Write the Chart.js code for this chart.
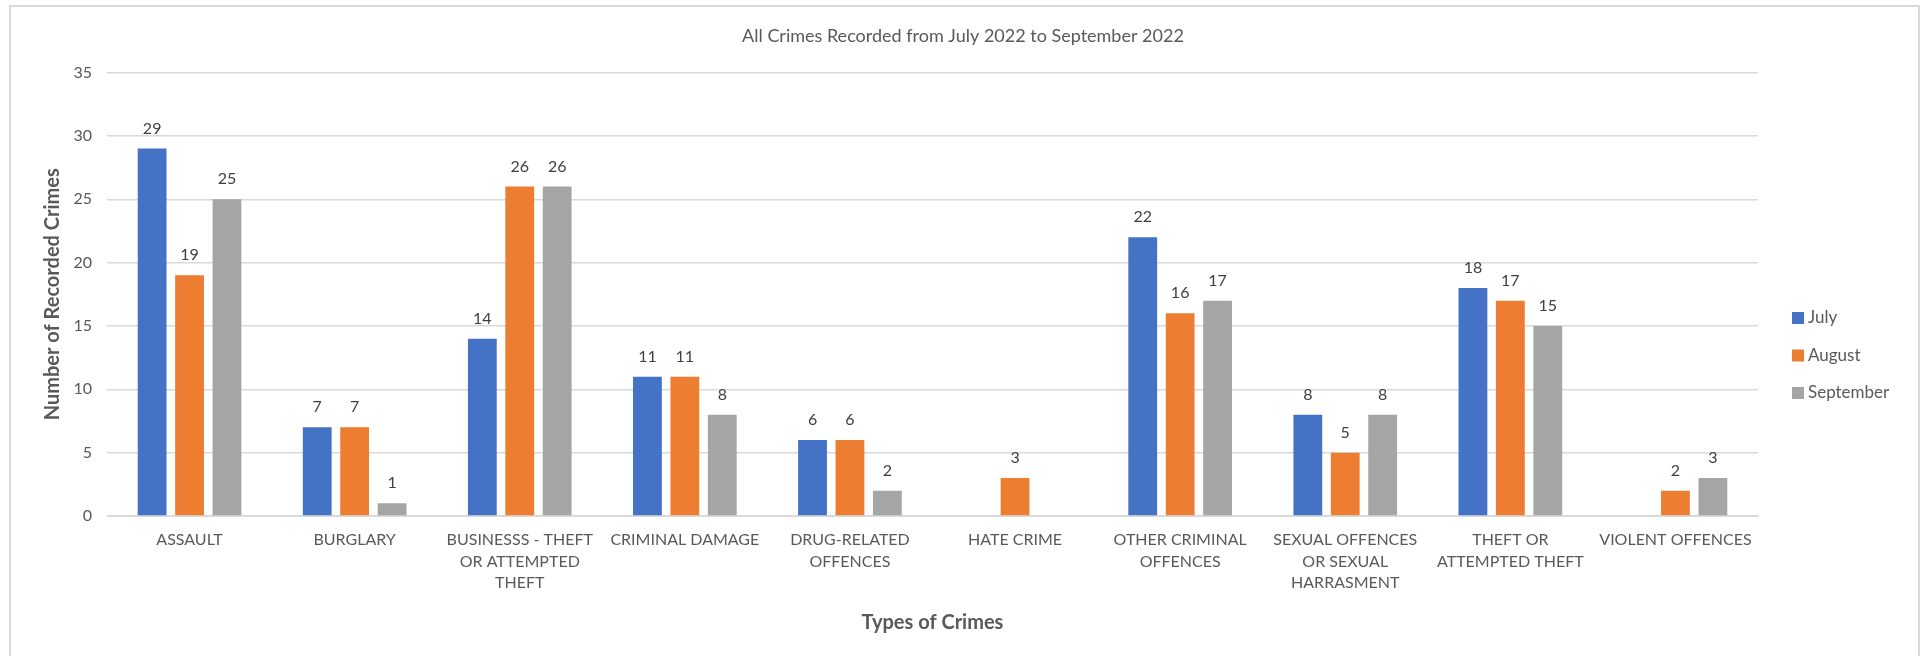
<!DOCTYPE html>
<html lang="en">
<head>
<meta charset="UTF-8">
<title>All Crimes Recorded from July 2022 to September 2022</title>
<script src="https://cdn.jsdelivr.net/npm/chart.js@4.4.0/dist/chart.umd.min.js"></script>
<style>
  html, body { margin: 0; padding: 0; background: #fff; }
  #wrap { position: relative; width: 1926px; height: 656px; overflow: hidden; }
  /* light grey chart frame, open at the bottom edge of the page */
  #frame { position: absolute; left: 9px; top: 5px; width: 1911px; height: 720px;
           border: 2px solid #d9d9d9; box-sizing: border-box; }
  #crimes { position: absolute; left: 0; top: 0; }
</style>
</head>
<body>
<div id="wrap">
  <div id="frame"></div>
  <canvas id="crimes" width="1926" height="656"></canvas>
</div>
<script>
// crime categories, split into the lines shown under each group
const crimeTypes = [
  ['ASSAULT'],
  ['BURGLARY'],
  ['BUSINESSS - THEFT', 'OR ATTEMPTED', 'THEFT'],
  ['CRIMINAL DAMAGE'],
  ['DRUG-RELATED', 'OFFENCES'],
  ['HATE CRIME'],
  ['OTHER CRIMINAL', 'OFFENCES'],
  ['SEXUAL OFFENCES', 'OR SEXUAL', 'HARRASMENT'],
  ['THEFT OR', 'ATTEMPTED THEFT'],
  ['VIOLENT OFFENCES']
];

const months = ['July', 'August', 'September'];

// recorded crimes per month (null = nothing recorded)
const julyCounts      = [29, 7, 14, 11, 6, null, 22, 8, 18, null];
const augustCounts    = [19, 7, 26, 11, 6, 3, 16, 5, 17, 2];
const septemberCounts = [25, 1, 26, 8, 2, null, 17, 8, 15, 3];

const yTicks = [0, 5, 10, 15, 20, 25, 30, 35];

const monthColors = ['#4472C4', '#ED7D31', '#A5A5A5'];
const FONT = 'Lato';

// number above every bar
const barValueLabels = {
  id: 'barValueLabels',
  afterDatasetsDraw(chart) {
    const ctx = chart.ctx;
    ctx.save();
    ctx.font = '16px ' + FONT;
    ctx.fillStyle = '#404040';
    ctx.textAlign = 'center';
    ctx.textBaseline = 'middle';
    chart.data.datasets.forEach((ds, i) => {
      chart.getDatasetMeta(i).data.forEach((bar, j) => {
        const v = ds.data[j];
        if (v == null) return;
        ctx.fillText(String(v), bar.x, bar.y - 20);
      });
    });
    ctx.restore();
  }
};

// legend to the right of the plot, square swatches
const sideLegend = {
  id: 'sideLegend',
  afterDraw(chart) {
    const ctx = chart.ctx;
    const x = chart.chartArea.right + 34;
    ctx.save();
    ctx.font = '17px ' + FONT;
    ctx.textBaseline = 'middle';
    chart.data.datasets.forEach((ds, i) => {
      const y = 318 + i * 37.5;
      ctx.fillStyle = ds.backgroundColor;
      ctx.fillRect(x, y - 6, 12, 12);
      ctx.fillStyle = '#595959';
      ctx.fillText(ds.label, x + 16, y);
    });
    ctx.restore();
  }
};

const seriesValues = [julyCounts, augustCounts, septemberCounts];

new Chart(document.getElementById('crimes'), {
  type: 'bar',
  data: {
    labels: crimeTypes,
    datasets: months.map((m, i) => ({
      label: m,
      data: seriesValues[i],
      backgroundColor: monthColors[i],
      categoryPercentage: 0.68,
      barPercentage: 0.77
    }))
  },
  options: {
    responsive: false,
    devicePixelRatio: 1,
    animation: false,
    layout: { padding: 0 },
    plugins: {
      legend: { display: false },
      tooltip: { enabled: false },
      title: {
        display: true,
        text: 'All Crimes Recorded from July 2022 to September 2022',
        color: '#595959',
        font: { family: FONT, size: 18, weight: 'normal' },
        padding: { top: 25, bottom: 26 }
      }
    },
    scales: {
      x: {
        grid: { display: false, drawTicks: false },
        border: { color: '#d9d9d9' },
        ticks: {
          color: '#595959',
          font: { family: FONT, size: 16, lineHeight: 1.35 },
          padding: 13,
          autoSkip: false,
          maxRotation: 0
        },
        title: {
          display: true,
          text: 'Types of Crimes',
          color: '#595959',
          font: { family: FONT, size: 20, weight: 'bold' },
          padding: { top: 0, bottom: 21 }
        },
        afterFit(scale) { scale.height = 140; }
      },
      y: {
        min: 0,
        max: 35,
        afterBuildTicks(scale) { scale.ticks = yTicks.map(v => ({ value: v })); },
        grid: { color: '#d9d9d9', lineWidth: 1.5, drawTicks: false },
        border: { display: false },
        ticks: {
          color: '#595959',
          font: { family: FONT, size: 16 },
          padding: 15
        },
        title: {
          display: true,
          text: 'Number of Recorded Crimes',
          color: '#595959',
          font: { family: FONT, size: 20, weight: 'bold' },
          padding: { top: 41, bottom: 0 }
        },
        afterFit(scale) { scale.width = 107; }
      },
      // empty strip on the right that holds the legend
      legendStrip: {
        type: 'linear',
        position: 'right',
        grid: { display: false, drawTicks: false },
        border: { display: false },
        ticks: { display: false },
        afterFit(scale) { scale.width = 168; }
      }
    }
  },
  plugins: [barValueLabels, sideLegend]
});
</script>
</body>
</html>
